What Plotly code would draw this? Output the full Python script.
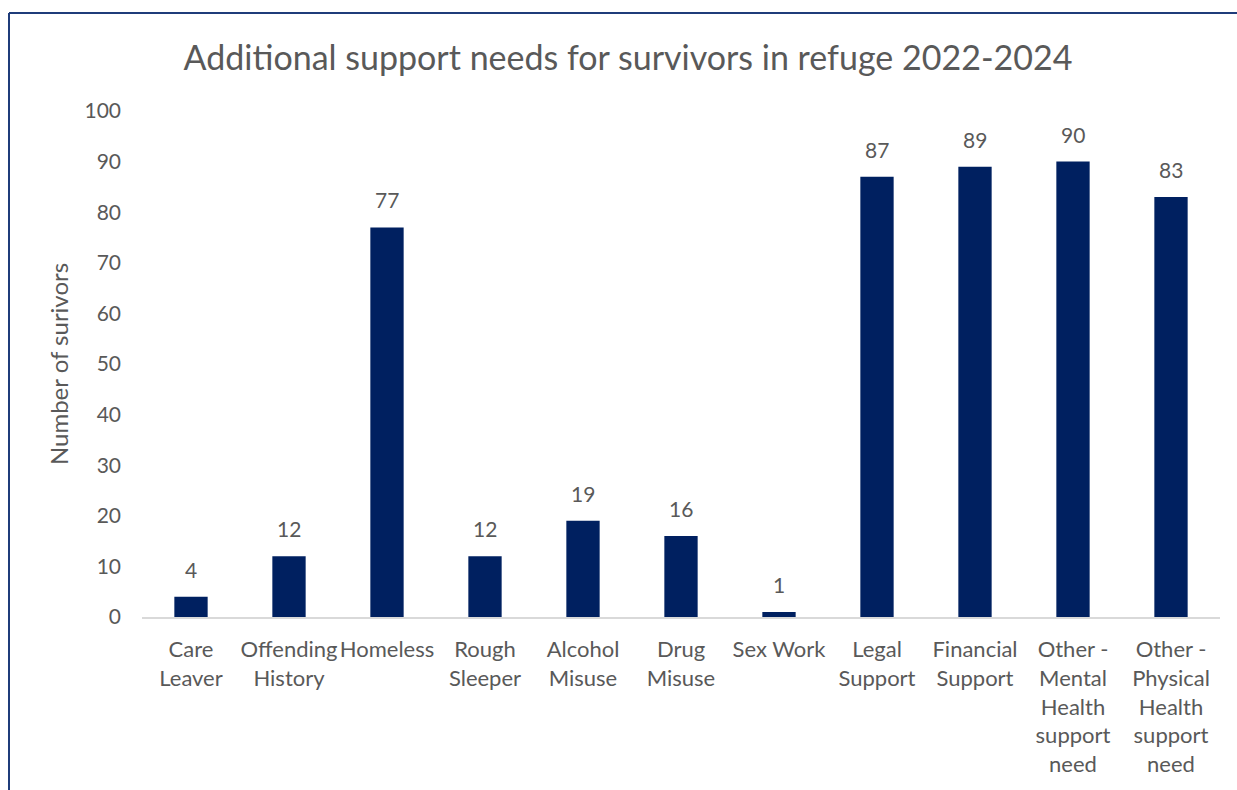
import plotly.graph_objects as go

categories = [
    "Care<br>Leaver", "Offending<br>History", "Homeless", "Rough<br>Sleeper",
    "Alcohol<br>Misuse", "Drug<br>Misuse", "Sex Work", "Legal<br>Support",
    "Financial<br>Support", "Other -<br>Mental<br>Health<br>support<br>need",
    "Other -<br>Physical<br>Health<br>support<br>need",
]
survivors = [4, 12, 77, 12, 19, 16, 1, 87, 89, 90, 83]
y_ticks = [0, 10, 20, 30, 40, 50, 60, 70, 80, 90, 100]

W, H = 1237, 790
ML, MR, MT, MB = 142, 17, 111, 173
FONT = "Lato, 'Open Sans', sans-serif"
GREY = "#595959"
TICK = 21

fig = go.Figure(go.Bar(
    x=categories,
    y=survivors,
    marker=dict(color="#002060", line=dict(width=0)),
    cliponaxis=False,
))

# value labels above each bar
for cat, val in zip(categories, survivors):
    fig.add_annotation(
        x=cat, y=val, text=str(val), showarrow=False,
        xanchor="center", yanchor="bottom", yshift=13,
        font=dict(size=TICK, color=GREY, family=FONT),
    )

pw, ph = W - ML - MR, H - MT - MB
def px(x):
    return (x - ML) / pw
def py(y):
    return (H - MB - y) / ph

fig.update_layout(
    width=W, height=H,
    margin=dict(l=ML, r=MR, t=MT, b=MB),
    paper_bgcolor="white", plot_bgcolor="white",
    bargap=0.66,
    showlegend=False,
    font=dict(family=FONT, color=GREY, size=TICK),
    title=dict(
        text="Additional support needs for survivors in refuge 2022-2024",
        x=628 / W, xref="container", xanchor="center",
        y=1 - 58 / H, yref="container", yanchor="middle",
        font=dict(size=34, color=GREY, family=FONT),
    ),
    xaxis=dict(
        showline=True, linecolor="#d9d9d9", linewidth=2,
        ticks="", showgrid=False, ticklabelstandoff=12,
        tickfont=dict(size=22, color=GREY, family=FONT),
    ),
    yaxis=dict(
        range=[0, 100], tickvals=y_ticks, showgrid=False, zeroline=False,
        showline=False, ticks="", ticklen=0, ticklabelstandoff=20,
        tickfont=dict(size=TICK, color=GREY, family=FONT),
        title=dict(text="Number of surivors", standoff=9,
                   font=dict(size=24, color=GREY, family=FONT)),
    ),
    shapes=[
        dict(type="line", xref="paper", yref="paper",
             x0=px(9), x1=px(9), y0=py(13), y1=py(800),
             line=dict(color="#1F3C7A", width=2)),
        dict(type="line", xref="paper", yref="paper",
             x0=px(9), x1=px(1250), y0=py(13), y1=py(13),
             line=dict(color="#1F3C7A", width=2)),
    ],
)

fig.write_html("out.html")
